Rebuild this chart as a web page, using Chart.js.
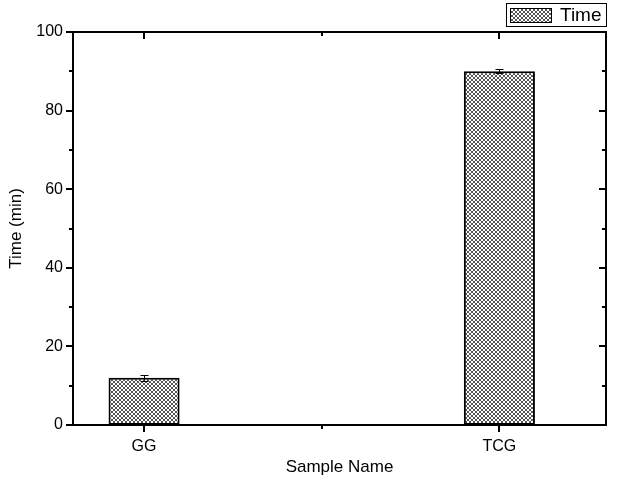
<!DOCTYPE html>
<html>
<head>
<meta charset="utf-8">
<script src="https://cdn.jsdelivr.net/npm/chart.js@4"></script>
<style>
  html, body { margin: 0; padding: 0; background: #fff; }
  #wrap { width: 617px; height: 490px; }
</style>
</head>
<body>
<div id="wrap"><canvas id="chart" width="617" height="490"></canvas></div>
<script>
// chart values
const categories = ['GG', 'TCG'];
const times = [12, 90];
const timeErrors = [0.7, 0.5];
const yTicks = [0, 20, 40, 60, 80, 100];
const yMinorTicks = [10, 30, 50, 70, 90];
const xMinorTicks = [1.5];
const seriesLabel = 'Time';

const FONT = "'Liberation Sans', Arial, sans-serif";

// cross hatch fill like the Origin pattern
function makeHatch() {
  const c = document.createElement('canvas');
  c.width = 4;
  c.height = 4;
  const g = c.getContext('2d');
  g.fillStyle = '#ffffff';
  g.fillRect(0, 0, 4, 4);
  g.strokeStyle = '#555';
  g.lineWidth = 1;
  g.beginPath();
  g.moveTo(0, 0); g.lineTo(4, 4);
  g.moveTo(4, 0); g.lineTo(0, 4);
  g.stroke();
  return g.createPattern(c, 'repeat');
}
const hatch = makeHatch();

const frameAndExtras = {
  id: 'frameAndExtras',
  afterDatasetsDraw(chart) {
    const ctx = chart.ctx;
    const xs = chart.scales.x;
    const ys = chart.scales.y;
    const a = chart.chartArea;

    ctx.save();
    ctx.strokeStyle = '#000';

    // error bars
    ctx.lineWidth = 1;
    times.forEach((v, i) => {
      const px = Math.round(xs.getPixelForValue(i + 1)) + 0.5;
      const top = ys.getPixelForValue(v + timeErrors[i]);
      const bot = ys.getPixelForValue(v - timeErrors[i]);
      ctx.beginPath();
      ctx.moveTo(px, top); ctx.lineTo(px, bot);
      ctx.moveTo(px - 4, Math.round(top) + 0.5); ctx.lineTo(px + 4, Math.round(top) + 0.5);
      ctx.moveTo(px - 4, Math.round(bot) + 0.5); ctx.lineTo(px + 4, Math.round(bot) + 0.5);
      ctx.stroke();
    });

    // frame
    ctx.lineWidth = 2;
    ctx.strokeRect(a.left, a.top, a.right - a.left, a.bottom - a.top);

    // y ticks: outward on the left, inward on the right
    yTicks.forEach(v => {
      const py = Math.round(ys.getPixelForValue(v));
      ctx.beginPath();
      ctx.moveTo(a.left - 7, py); ctx.lineTo(a.left, py);
      ctx.moveTo(a.right, py); ctx.lineTo(a.right - 7, py);
      ctx.stroke();
    });
    yMinorTicks.forEach(v => {
      const py = Math.round(ys.getPixelForValue(v));
      ctx.beginPath();
      ctx.moveTo(a.left - 4, py); ctx.lineTo(a.left, py);
      ctx.moveTo(a.right, py); ctx.lineTo(a.right - 4, py);
      ctx.stroke();
    });

    // x ticks: outward at the bottom, inward at the top
    categories.forEach((c, i) => {
      const px = Math.round(xs.getPixelForValue(i + 1));
      ctx.beginPath();
      ctx.moveTo(px, a.bottom); ctx.lineTo(px, a.bottom + 7);
      ctx.moveTo(px, a.top); ctx.lineTo(px, a.top + 7);
      ctx.stroke();
    });
    xMinorTicks.forEach(v => {
      const px = Math.round(xs.getPixelForValue(v));
      ctx.beginPath();
      ctx.moveTo(px, a.bottom); ctx.lineTo(px, a.bottom + 4);
      ctx.moveTo(px, a.top); ctx.lineTo(px, a.top + 4);
      ctx.stroke();
    });

    // legend box at the top right
    ctx.lineWidth = 1;
    ctx.strokeRect(506.5, 3.5, 100, 23);
    ctx.fillStyle = hatch;
    ctx.fillRect(510, 8, 41, 14);
    ctx.strokeRect(510.5, 8.5, 41, 14);
    ctx.fillStyle = '#000';
    ctx.font = '19px ' + FONT;
    ctx.textBaseline = 'middle';
    ctx.textAlign = 'left';
    ctx.fillText(seriesLabel, 560, 16);

    ctx.restore();
  }
};

new Chart(document.getElementById('chart'), {
  type: 'bar',
  data: {
    datasets: [{
      label: seriesLabel,
      data: categories.map((c, i) => ({ x: i + 1, y: times[i] })),
      backgroundColor: hatch,
      borderColor: '#000',
      borderWidth: 2,
      borderSkipped: false,
      barPercentage: 0.2,
      categoryPercentage: 1.0
    }]
  },
  options: {
    responsive: false,
    animation: false,
    layout: { padding: { top: 32, right: 11, left: 0, bottom: 0 } },
    plugins: {
      legend: { display: false },
      tooltip: { enabled: false }
    },
    scales: {
      x: {
        type: 'linear',
        offset: false,
        bounds: 'data',
        min: 0.8,
        max: 2.3,
        grid: { display: false, drawTicks: false, tickLength: 0, offset: false },
        border: { display: false },
        afterBuildTicks: scale => {
          scale.ticks = categories.map((c, i) => ({ value: i + 1 }));
        },
        afterFit: scale => { scale.height = 65; },
        ticks: {
          color: '#000',
          font: { family: FONT, size: 16 },
          padding: 12,
          maxRotation: 0,
          callback: v => categories[v - 1]
        },
        title: {
          display: true,
          text: 'Sample Name',
          color: '#000',
          font: { family: FONT, size: 17 },
          padding: { top: 0, bottom: 12 }
        }
      },
      y: {
        min: 0,
        max: 100,
        grid: { display: false, drawTicks: false, tickLength: 0 },
        border: { display: false },
        afterBuildTicks: scale => {
          scale.ticks = yTicks.map(v => ({ value: v }));
        },
        afterFit: scale => { scale.width = 73; },
        ticks: {
          color: '#000',
          font: { family: FONT, size: 16 },
          padding: 10
        },
        title: {
          display: true,
          text: 'Time (min)',
          color: '#000',
          font: { family: FONT, size: 17 },
          padding: { top: 6, bottom: 0 }
        }
      }
    }
  },
  plugins: [frameAndExtras]
});
</script>
</body>
</html>
